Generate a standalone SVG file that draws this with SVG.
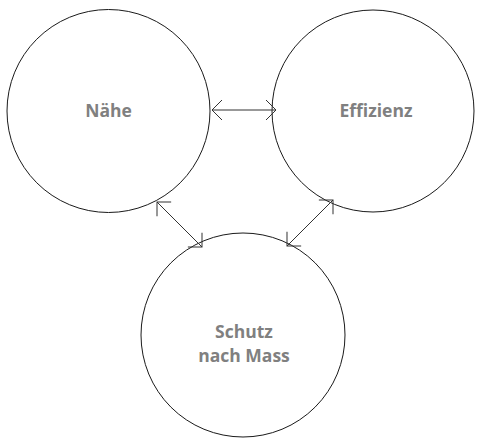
<svg xmlns="http://www.w3.org/2000/svg" width="477" height="441" viewBox="0 0 477 441">
<style>
.c{fill:#fff;stroke:#1a1a1a;stroke-width:1}
.t{font-family:"Open Sans","Lato",sans-serif;font-weight:bold;font-size:17.5px;fill:#808080;text-anchor:middle}
.l{stroke:#333;stroke-width:1;fill:none;marker-start:url(#a);marker-end:url(#a)}
</style>
<defs>
<marker id="a" markerUnits="userSpaceOnUse" viewBox="-12 -12 14 24" markerWidth="14" markerHeight="24" refX="0" refY="0" orient="auto-start-reverse" overflow="visible">
<path d="M-10,-10 L0,0 L-10,10" fill="none" stroke="#333" stroke-width="1"/>
</marker>
</defs>
<rect width="477" height="441" fill="#fff"/>
<g id="naehe"><circle class="c" cx="108.5" cy="111" r="101.5"/><text class="t" x="108.5" y="117">Nähe</text></g>
<g id="effizienz"><circle class="c" cx="373" cy="111" r="101"/><text class="t" x="376" y="117">Effizienz</text></g>
<g id="schutz"><circle class="c" cx="243" cy="335" r="102"/><text class="t" x="244" y="338">Schutz</text><text class="t" x="244" y="362">nach Mass</text></g>
<g id="connectors">
<line class="l" x1="212" y1="110" x2="276" y2="110"/>
<line class="l" x1="157" y1="202" x2="202" y2="247"/>
<line class="l" x1="333" y1="200" x2="287" y2="246"/>
</g>
</svg>
